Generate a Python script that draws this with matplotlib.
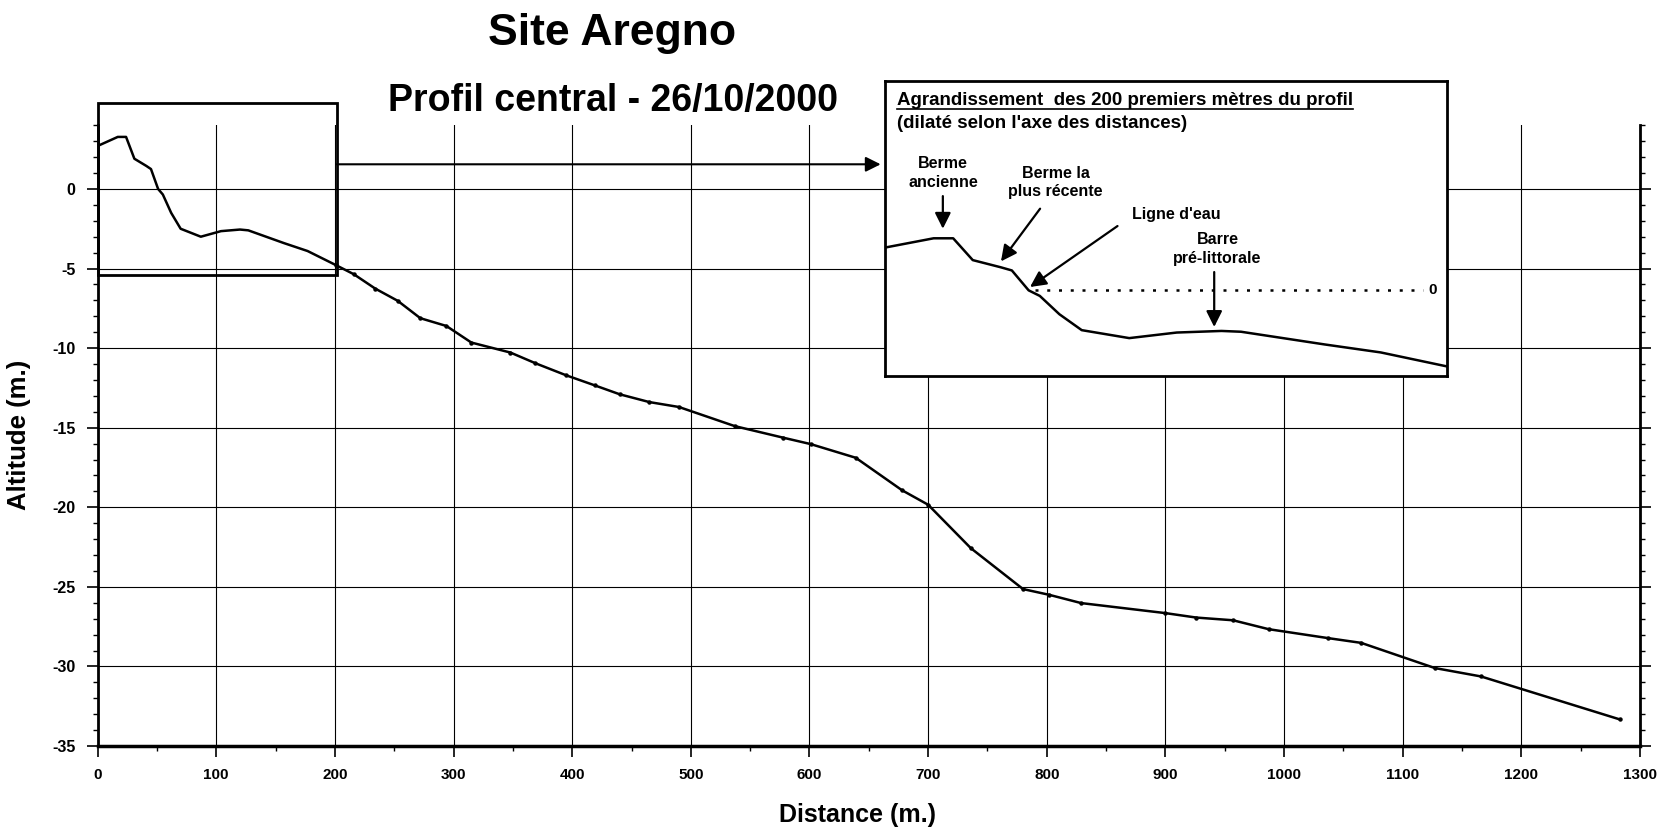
import matplotlib
matplotlib.use('Agg')
import matplotlib.pyplot as plt
from matplotlib.lines import Line2D
from matplotlib.patches import Rectangle
from matplotlib.ticker import MultipleLocator

plt.rcParams['font.family'] = ['Liberation Sans', 'DejaVu Sans']
plt.rcParams['font.weight'] = 'bold'
plt.rcParams['axes.unicode_minus'] = False

# profil central, relevé du 26/10/2000
distance = [0, 17, 24, 31, 41, 45, 51, 55, 62, 70, 87, 104, 120, 127, 157, 177, 201,
            216, 234, 253, 272, 294, 315, 348, 369, 395, 419, 440, 465, 490, 537,
            578, 601, 639, 678, 700, 736, 780, 802, 829, 900, 926, 957, 987, 1037,
            1065, 1127, 1166, 1283]
altitude = [2.7, 3.27, 3.27, 1.9, 1.45, 1.25, 0.0, -0.35, -1.5, -2.5, -3.0, -2.65, -2.55, -2.6, -3.4, -3.9, -4.79,
            -5.36, -6.26, -7.03, -8.12, -8.61, -9.65, -10.28, -10.95, -11.71, -12.34, -12.9, -13.39, -13.7, -14.9,
            -15.63, -16.03, -16.89, -18.93, -19.84, -22.57, -25.14, -25.5, -26.02, -26.65, -26.93, -27.1, -27.66, -28.22,
            -28.52, -30.1, -30.63, -33.33]

zoom_end = 201.6          # fin de la zone agrandie
water_line = [53.3, 192]  # ligne d'eau (altitude 0) dans l'agrandissement

fig = plt.figure(figsize=(16.64, 8.33), dpi=100)
ax = fig.add_axes([0.05865, 0.10444, 0.92693, 0.74514])

# les points ne se voient qu'au-delà de la zone agrandie
first_marked = next(i for i, d in enumerate(distance) if d >= 200)
ax.plot(distance, altitude, color='black', lw=1.8, marker='o', markersize=2.2,
        markevery=list(range(first_marked, len(distance))), zorder=4)

ax.set_xlim(0, 1300)
ax.set_ylim(-35, 4)
ax.xaxis.set_major_locator(MultipleLocator(100))
ax.xaxis.set_minor_locator(MultipleLocator(50))
ax.set_yticks(range(-35, 1, 5))
ax.yaxis.set_minor_locator(MultipleLocator(1))
ax.grid(which='major', color='black', lw=0.8)
ax.tick_params(which='major', direction='out', length=8, width=1.2, pad=8)
ax.tick_params(axis='x', labelsize=11)
ax.tick_params(axis='y', labelsize=11.5)
ax.tick_params(which='minor', direction='out', length=3.5, width=1)
ax.tick_params(axis='y', which='both', right=True)
for lab in ax.get_xticklabels() + ax.get_yticklabels():
    lab.set_fontweight('bold')
ax.spines['top'].set_visible(False)
for s in ['left', 'right']:
    ax.spines[s].set_linewidth(2)
ax.spines['bottom'].set_linewidth(2.5)

# cadre de la zone agrandie + flèche vers l'agrandissement
ax.add_patch(Rectangle((0, -5.38), zoom_end, 10.76, fill=False, lw=2,
                       edgecolor='black', clip_on=False, zorder=5))
ax.annotate('', xy=(660, 1.55), xytext=(zoom_end, 1.55), annotation_clip=False,
            arrowprops=dict(arrowstyle='-|>,head_length=0.6,head_width=0.3', lw=1.5,
                            color='black', mutation_scale=15, shrinkA=0, shrinkB=0))

fig.text(612 / 1664, 1 - 34 / 833, 'Site Aregno', fontsize=32, ha='center', va='center')
fig.text(613 / 1664, 1 - 101 / 833, 'Profil central - 26/10/2000', fontsize=27,
         ha='center', va='center')
fig.text(19 / 1664, 1 - 435 / 833, 'Altitude (m.)', fontsize=18.5, rotation=90,
         ha='center', va='center')
fig.text(857.5 / 1664, 1 - 815 / 833, 'Distance (m.)', fontsize=18, ha='center', va='center')

# agrandissement des 200 premiers mètres
axi = fig.add_axes([0.53185, 0.54862, 0.33774, 0.35414], zorder=10)
axi.set_facecolor('white')
axi.plot(distance, altitude, color='black', lw=1.8)
axi.set_xlim(-0.4, 200.7)
axi.set_ylim(-5.38, 13.15)
axi.set_xticks([])
axi.set_yticks([])
for s in axi.spines.values():
    s.set_linewidth(2)

axi.plot(water_line, [0, 0], color='black', lw=1.8, ls=(0, (1.2, 3.5)))
axi.text(195.5, 0, '0', fontsize=11, ha='center', va='center')

t1 = axi.text(0.022, 0.917, 'Agrandissement  des 200 premiers mètres du profil',
              transform=axi.transAxes, fontsize=13.5, ha='left', va='baseline')
axi.text(0.022, 0.855, "(dilaté selon l'axe des distances)", transform=axi.transAxes,
         fontsize=13.5, ha='left', va='center')

arrow = dict(arrowstyle='-|>,head_length=0.8,head_width=0.4', lw=1.6, color='black',
             mutation_scale=12, shrinkA=0, shrinkB=0)
notes = [
    ('Berme\nancienne', (20.4, 7.39), (20.3, 5.92), (20.3, 3.87)),
    ('Berme la\nplus récente', (60.6, 6.78), (55.1, 5.13), (41.1, 1.82)),
    ("Ligne d'eau", (103.9, 4.75), (82.8, 4.04), (51.5, 0.21)),
    ('Barre\npré-littorale', (118.6, 2.59), (117.4, 1.15), (117.4, -2.3)),
]
for label, pos, start, end in notes:
    axi.text(pos[0], pos[1], label, fontsize=11.5, ha='center', va='center', linespacing=1.3)
    axi.annotate('', xy=end, xytext=start, arrowprops=arrow)

# soulignement du titre de l'agrandissement
fig.canvas.draw()
bb = t1.get_window_extent().transformed(axi.transAxes.inverted())
axi.add_line(Line2D([bb.x0, bb.x1], [0.905, 0.905], transform=axi.transAxes,
                    color='black', lw=1.2))

fig.savefig('out.png', dpi=100)
plt.close('all')
